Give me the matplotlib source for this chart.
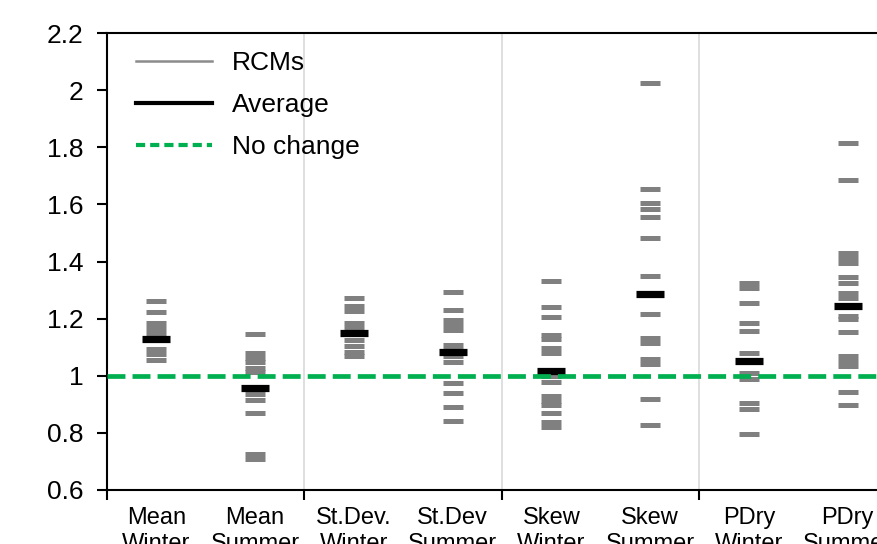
import numpy as np
import matplotlib
matplotlib.use("Agg")
import matplotlib.pyplot as plt
from matplotlib.lines import Line2D
from matplotlib.ticker import FuncFormatter, MultipleLocator

plt.rcParams['font.family'] = ['Liberation Sans', 'DejaVu Sans']

# --- data: change factors per RCM and ensemble average ---
labels = ["Mean\nWinter", "Mean\nSummer", "St.Dev.\nWinter", "St.Dev\nSummer",
          "Skew\nWinter", "Skew\nSummer", "PDry\nWinter", "PDry\nSummer"]

mean_winter = [1.262, 1.222, 1.185, 1.168, 1.15, 1.094, 1.076, 1.055]
mean_summer = [1.145, 1.08, 1.062, 1.048, 1.027, 1.013, 0.936, 0.915, 0.868, 0.726, 0.708]
sd_winter = [1.273, 1.244, 1.227, 1.185, 1.167, 1.146, 1.125, 1.104, 1.083, 1.069]
sd_summer = [1.294, 1.23, 1.195, 1.178, 1.16, 1.108, 1.09, 1.069, 1.048, 0.973, 0.938, 0.892, 0.842]
skew_winter = [1.332, 1.242, 1.207, 1.143, 1.129, 1.097, 1.08, 1.0, 0.979,
               0.929, 0.911, 0.897, 0.871, 0.839, 0.822]
skew_summer = [2.025, 1.654, 1.604, 1.584, 1.557, 1.481, 1.349, 1.217, 1.132,
               1.115, 1.059, 1.041, 0.918, 0.826]
pdry_winter = [1.324, 1.306, 1.254, 1.184, 1.156, 1.081, 1.011, 0.988, 0.906, 0.882, 0.796]
pdry_summer = [1.814, 1.685, 1.429, 1.411, 1.394, 1.345, 1.326, 1.291, 1.271, 1.209,
               1.197, 1.152, 1.069, 1.053, 1.034, 0.943, 0.896]

rcms = [mean_winter, mean_summer, sd_winter, sd_summer,
        skew_winter, skew_summer, pdry_winter, pdry_summer]
average = [1.129, 0.956, 1.151, 1.084, 1.017, 1.287, 1.052, 1.245]

fig = plt.figure(figsize=(8.77, 5.44), dpi=100)
# axes run a little past the right edge of the figure
ax = fig.add_axes([0.122, 0.0993, 0.9008, 0.84])

gray = '#808080'
green = '#00B050'

for i, vals in enumerate(rcms):
    x = np.full(len(vals), i + 0.5)
    ax.plot(x, vals, linestyle='none', marker='_', markersize=14.5,
            markeredgewidth=3.6, color=gray, zorder=3)

ax.plot(np.arange(len(average)) + 0.5, average, linestyle='none', marker='_',
        markersize=20.5, markeredgewidth=5.2, color='black', zorder=4)

ax.axhline(1.0, color=green, lw=3.4, ls=(0, (3.8, 1.5)), zorder=5)

# separators between the four statistics
for xb in [2, 4, 6]:
    ax.axvline(xb, color='#d9d9d9', lw=1.2, zorder=1)

ax.set_xlim(0, 8)
ax.set_ylim(0.6, 2.2)
ax.yaxis.set_major_locator(MultipleLocator(0.2))
ax.yaxis.set_major_formatter(FuncFormatter(lambda v, p: f"{v:g}"))

ax.set_xticks([0, 2, 4, 6, 8])
ax.set_xticklabels([])
ax.set_xticks(np.arange(8) + 0.5, minor=True)
ax.set_xticklabels(labels, minor=True, fontsize=17,
                   family=['Liberation Sans Narrow', 'Liberation Sans'],
                   linespacing=1.25)
ax.tick_params(axis='x', which='minor', length=0, pad=12)
ax.tick_params(axis='x', which='major', length=7, width=1.5, direction='out')
ax.tick_params(axis='y', length=7, width=1.5, direction='out', labelsize=19, pad=10)

for s in ['left', 'bottom', 'top']:
    ax.spines[s].set_linewidth(1.5)

handles = [Line2D([], [], color='#8c8c8c', lw=1.8),
           Line2D([], [], color='black', lw=3),
           Line2D([], [], color=green, lw=3, ls=(0, (2.2, 1.2)))]
ax.legend(handles, ["RCMs", "Average", "No change"], loc='upper left',
          frameon=False, fontsize=19, handlelength=2.9, handletextpad=0.75,
          labelspacing=0.68, bbox_to_anchor=(0.013, 1.0), borderaxespad=0.3)

fig.savefig("out.png", dpi=100)
